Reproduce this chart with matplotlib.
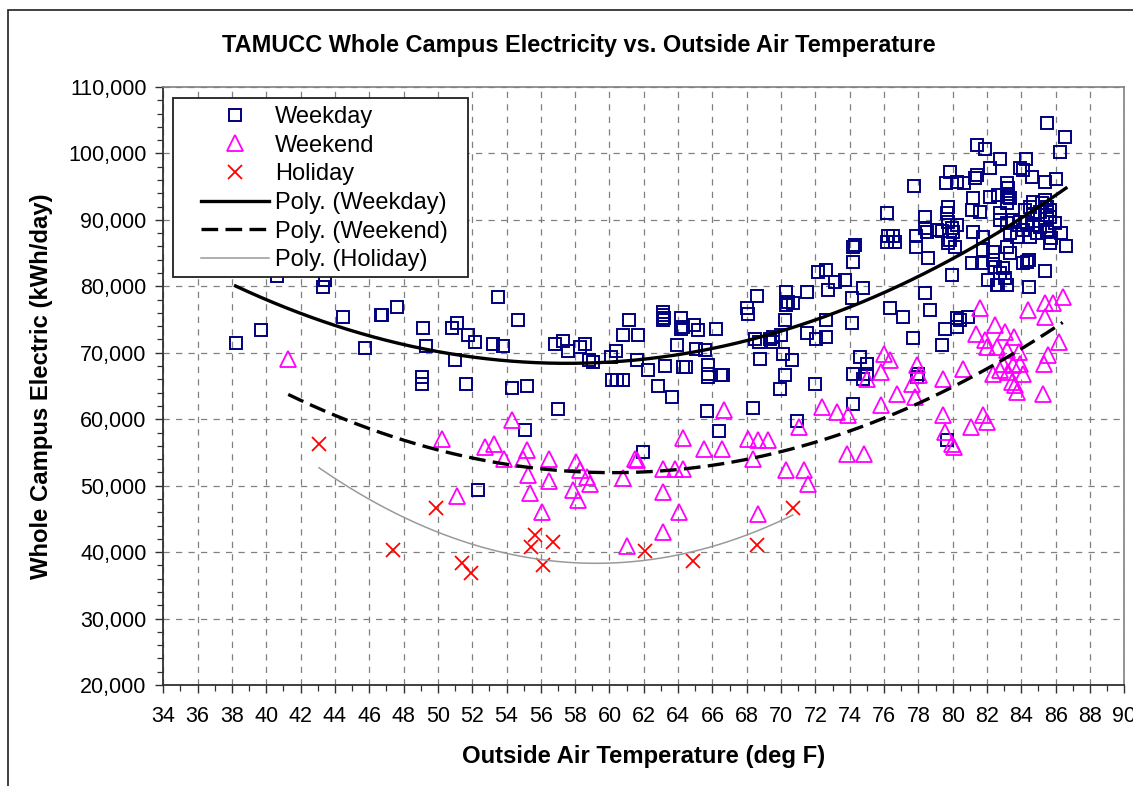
import numpy as np
import matplotlib
matplotlib.use("Agg")
import matplotlib.pyplot as plt
from matplotlib.patches import Rectangle
from matplotlib.ticker import MultipleLocator, StrMethodFormatter

plt.rcParams['font.family'] = ['Liberation Sans', 'DejaVu Sans']

# --- data (temperature deg F, kWh/day) ---
weekday_temp = [
    38.21, 39.67, 40.6, 43.32, 43.42, 44.47, 45.75, 46.68, 46.76, 47.62,
    49.11, 49.31, 49.09, 49.09, 50.8, 51.09, 51.73, 52.16, 51.0, 51.62,
    53.23, 53.81, 53.52, 54.65, 54.34, 55.17, 56.98, 56.82, 57.27, 57.6,
    58.28, 58.57, 58.82, 59.02, 52.36, 55.08,
    60.1, 60.4, 60.76, 61.11, 61.67, 61.61, 60.15, 60.46, 60.77, 61.97,
    62.22, 62.83, 63.64, 63.23, 63.13, 63.13, 63.15, 63.13, 64.19, 64.29,
    64.19, 63.94, 64.29, 64.45, 64.95, 65.15, 65.05, 65.56, 65.76, 65.76,
    65.76, 66.21, 66.47, 66.63, 65.66, 66.37, 68.39, 68.8, 68.5, 68.7,
    69.35, 69.55, 70.01, 67.99, 68.09, 68.6, 70.21, 70.41, 70.31, 70.72,
    70.11, 70.21, 69.96, 70.62, 71.53, 72.14, 72.64, 73.15, 73.75, 71.49,
    72.03, 72.64, 71.98, 72.64, 72.74, 70.92, 74.21, 74.31, 74.21, 74.16,
    74.16, 74.21, 74.21, 70.3, 74.79, 69.55,
    85.51, 86.54, 86.25, 81.4, 81.9, 82.76, 84.25, 82.17, 79.84, 79.61,
    80.66, 81.4, 81.3, 83.92, 84.12, 84.6, 85.38, 86.02, 77.76, 83.14,
    83.24, 83.14, 83.34, 81.2, 82.17, 82.66, 79.75, 79.65, 79.75, 76.15,
    78.39, 78.39, 78.48, 79.07, 79.36, 79.94, 80.04, 79.84, 79.75, 76.25,
    76.54, 76.15, 76.64, 77.86, 77.86, 78.58, 81.1, 81.69, 82.37, 82.46,
    82.95, 83.05, 82.66, 83.14, 82.08, 84.12, 84.47, 85.38, 84.47, 76.35,
    77.12, 77.71, 78.68, 79.55, 80.42, 80.23, 80.91,
    74.6, 74.99, 74.99, 74.79, 77.98, 77.9, 79.36, 78.39, 79.94, 79.65,
    80.24, 81.1, 81.6, 83.24, 83.15, 84.7, 85.19, 85.67, 84.5, 85.48,
    80.24, 80.14, 81.2, 81.79, 81.79, 82.37, 83.15, 83.34, 82.76, 83.15,
    83.53, 83.92, 84.31, 84.7, 85.09, 85.48, 85.67, 84.12, 84.51, 83.73,
    84.9, 83.34, 82.76, 84.22, 84.7, 85.09, 84.31, 82.56, 82.76, 80.24,
    85.48, 85.67, 85.73, 85.96, 85.38, 85.48, 86.3, 86.6,
]
weekday_kwh = [
    71500, 73400, 81600, 79930, 80930, 75310, 70740, 75660, 75760, 76920,
    73750, 70990, 66380, 65370, 73750, 74510, 72650, 71550, 68890, 65370,
    71250, 70990, 78320, 74910, 64770, 65020, 61510, 71300, 71800, 70290,
    70890, 71300, 68890, 68640, 49310, 58340,
    69370, 70290, 72650, 74910, 72650, 68870, 65840, 65840, 65840, 55080,
    67350, 64990, 63330, 68030, 76150, 75660, 75160, 74910, 75160, 73900,
    73650, 71140, 67880, 67880, 74150, 73400, 70640, 70390, 68110, 66840,
    66340, 73650, 66600, 66600, 61310, 58280, 61710, 69120, 72130, 71640,
    72130, 72390, 72650, 76670, 75910, 78520, 74910, 77670, 77170, 77430,
    69890, 66600, 64490, 68870, 79180, 82160, 82430, 80680, 80920, 72910,
    72130, 72390, 65360, 74910, 79430, 59700, 85960, 86240, 83700, 78180,
    74510, 66850, 62330, 79200, 79680, 71650,
    104630, 102420, 100260, 101260, 100600, 99110, 99110, 97750, 97250, 95590,
    95590, 96750, 96240, 97750, 97500, 96500, 95740, 96140, 95090, 95490,
    94740, 93890, 93230, 93230, 93380, 93740, 91980, 90970, 89720, 91070,
    90370, 88710, 88210, 88460, 88360, 88710, 88210, 86960, 86460, 87560,
    87560, 86710, 86710, 87560, 85950, 84200, 83440, 83440, 83950, 82940,
    82690, 81190, 80180, 80180, 80930, 83440, 83950, 82340, 79930, 76670,
    75410, 72150, 76420, 73650, 74910, 73910, 75410,
    69390, 68380, 66880, 66120, 66880, 66380, 71150, 78930, 81690, 56840,
    95740, 91480, 91230, 93480, 92480, 92730, 92480, 91480, 91980, 90730,
    89220, 85950, 88220, 87460, 85450, 85200, 85950, 84950, 89970, 89470,
    89970, 89720, 89470, 89220, 88960, 88460, 86460, 88460, 87460, 87460,
    87970, 87970, 90980, 91480, 90730, 91230, 83690, 80180, 81940, 75160,
    88210, 90470, 87300, 89500, 93000, 92000, 88000, 86000,
]

weekend_temp = [
    41.28, 50.22, 51.14, 52.75, 53.29, 53.87, 54.33, 55.17, 54.98, 55.26,
    55.37, 56.09, 56.49, 56.49, 58.05, 58.28, 58.68, 58.88, 57.87, 58.17,
    60.8, 61.01, 61.48, 61.61, 63.1, 63.82, 64.3, 63.1, 63.1, 64.04,
    64.3, 65.52, 66.53, 66.67, 68.09, 68.68, 69.26, 68.34, 68.68, 71.06,
    70.31, 71.33, 71.58, 72.36, 73.28, 73.92, 73.82, 74.85, 75.8, 76.73,
    74.99, 75.8, 76.35, 75.99, 77.61, 77.8, 77.9, 78.06, 79.45, 80.62,
    79.45, 79.55, 79.94, 80.1, 81.05, 81.75, 81.98, 81.59, 81.36, 81.88,
    81.98, 82.46, 82.56, 83.05, 83.57, 82.95, 83.53, 83.92, 82.76, 83.24,
    84.12, 83.44, 83.63, 83.73, 82.37, 83.14, 83.88, 84.41, 85.38, 85.83,
    86.41, 85.38, 86.19, 85.57, 85.34, 85.24,
]
weekend_kwh = [
    68990, 57080, 48500, 55810, 56310, 53950, 59880, 55310, 54050, 51540,
    48930, 46010, 53950, 50690, 53550, 52300, 51300, 50300, 49290, 47790,
    51160, 40920, 54060, 53810, 52550, 52550, 52550, 49030, 43010, 46010,
    57220, 55560, 55560, 61460, 57080, 56820, 56820, 54060, 45780, 58860,
    52300, 52300, 50300, 61860, 61100, 60600, 54830, 54830, 62110, 63870,
    66120, 67130, 68890, 69890, 65370, 63360, 68130, 66630, 66120, 67630,
    60600, 58090, 56340, 55830, 58850, 60600, 59600, 76670, 72900, 71900,
    70890, 74160, 70890, 73150, 72400, 68380, 68130, 68380, 67380, 67130,
    66880, 65620, 65120, 64120, 66880, 70390, 70140, 76420, 77420, 77420,
    78420, 75410, 71650, 69640, 68380, 63870,
]

holiday_temp = [43.07, 47.4, 49.89, 51.39, 51.91, 55.66, 55.43, 56.69, 56.11,
                62.07, 64.89, 68.58, 70.68]
holiday_kwh = [56240, 40270, 46700, 38360, 36850, 42640, 40770, 41520, 38120,
               40170, 38620, 41030, 46700]


def poly_trend(x, y, order=2, n=200):
    """Excel-style polynomial trendline over the data range"""
    x = np.asarray(x, dtype=float)
    coef = np.polyfit(x, np.asarray(y, dtype=float), order)
    xs = np.linspace(x.min(), x.max(), n)
    return xs, np.polyval(coef, xs)


fig = plt.figure(figsize=(11.33, 7.86), dpi=100)
ax = fig.add_axes([0.14413, 0.12850, 0.84819, 0.76081])

# outer chart border (cut off on right/bottom like the source)
fig.add_artist(Rectangle((0.0071, -0.1), 1.2, 1.0873, transform=fig.transFigure,
                         fill=False, ec='#202020', lw=1.2))

ax.plot(weekday_temp, weekday_kwh, ls='none', marker='s', ms=9.3, mfc='none',
        mec='#000080', mew=1.4, label='Weekday', zorder=3)
ax.plot(weekend_temp, weekend_kwh, ls='none', marker='^', ms=11, mfc='none',
        mec='#FF00FF', mew=1.3, label='Weekend', zorder=3)
ax.plot(holiday_temp, holiday_kwh, ls='none', marker='x', ms=9.5,
        mec='#FF0000', mew=1.3, label='Holiday', zorder=3)

xs, ys = poly_trend(weekday_temp, weekday_kwh)
ax.plot(xs, ys, color='black', lw=2.4, label='Poly. (Weekday)', zorder=4)
xs, ys = poly_trend(weekend_temp, weekend_kwh)
ax.plot(xs, ys, color='black', lw=2.4, dashes=(5, 2.2), label='Poly. (Weekend)', zorder=4)
xs, ys = poly_trend(holiday_temp, holiday_kwh)
ax.plot(xs, ys, color='#9a9a9a', lw=1.1, label='Poly. (Holiday)', zorder=4)

ax.set_xlim(34, 90)
ax.set_ylim(20000, 110000)
ax.xaxis.set_major_locator(MultipleLocator(2))
ax.xaxis.set_minor_locator(MultipleLocator(1))
ax.yaxis.set_major_locator(MultipleLocator(10000))
ax.yaxis.set_minor_locator(MultipleLocator(2000))
ax.yaxis.set_major_formatter(StrMethodFormatter('{x:,.0f}'))

ax.grid(True, which='major', color='#808080', ls=(0, (5, 5)), lw=0.9)
ax.tick_params(which='major', direction='out', length=6, width=1.0, labelsize=15.5, color='#303030')
ax.tick_params(axis='x', which='major', pad=9)
ax.tick_params(axis='y', which='major', pad=6)
ax.tick_params(which='minor', direction='out', length=4, width=0.9, color='#303030')

for side in ('left', 'bottom'):
    ax.spines[side].set_color('#303030')
    ax.spines[side].set_linewidth(1.3)
for side in ('top', 'right'):
    ax.spines[side].set_color('#808080')
    ax.spines[side].set_linewidth(1.2)

# legend: framed box drawn separately so the handles can sit inset like Excel
ax.add_patch(Rectangle((0.0101, 0.6823), 0.307, 0.2993, transform=ax.transAxes,
                       fc='white', ec='#202020', lw=1.3, zorder=5))
leg = ax.legend(loc='upper left', bbox_to_anchor=(0.0392, 0.968), frameon=False,
                borderpad=0, borderaxespad=0, numpoints=1, handlelength=2.9,
                handletextpad=0.25, labelspacing=0.28, fontsize=17)
leg.set_zorder(6)

fig.text(0.5106, 0.9415, 'TAMUCC Whole Campus Electricity vs. Outside Air Temperature',
         ha='center', va='center', fontsize=16.9, fontweight='bold')
fig.text(0.5681, 0.0369, 'Outside Air Temperature (deg F)',
         ha='center', va='center', fontsize=17.2, fontweight='bold')
fig.text(0.037, 0.5089, 'Whole Campus Electric (kWh/day)', rotation=90,
         ha='center', va='center', fontsize=17.2, fontweight='bold')

fig.savefig('out.png', dpi=100)
